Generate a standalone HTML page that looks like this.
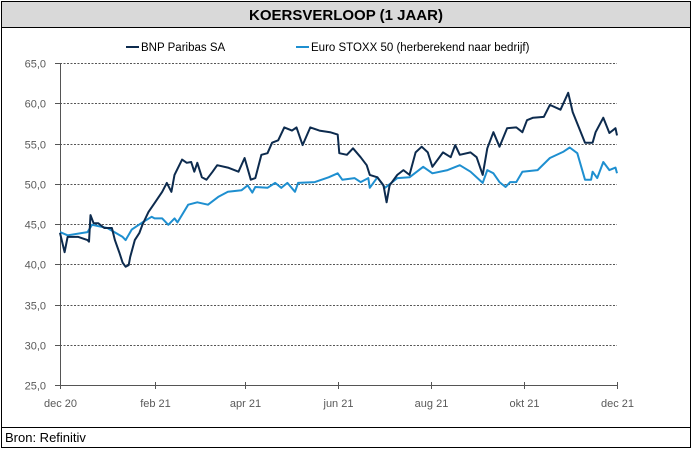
<!DOCTYPE html>
<html><head><meta charset="utf-8"><style>
body{margin:0;background:#fff;width:694px;height:449px;overflow:hidden;font-family:"Liberation Sans",sans-serif}
</style></head><body>
<svg width="694" height="449" xmlns="http://www.w3.org/2000/svg">
<rect x="1.5" y="1.5" width="689" height="446" fill="#fff" stroke="#000"/>
<rect x="2" y="2" width="688" height="25" fill="#d9d9d9"/>
<line x1="1" y1="27.5" x2="691" y2="27.5" stroke="#000"/>
<text x="346" y="20" text-anchor="middle" font-size="15" font-weight="bold">KOERSVERLOOP (1 JAAR)</text>
<line x1="1" y1="427.5" x2="691" y2="427.5" stroke="#000"/>
<text x="5" y="442" font-size="13">Bron: Refinitiv</text>
<g>
<line x1="126" y1="47" x2="139" y2="47" stroke="#0d2b4e" stroke-width="2"/>
<text x="141" y="51" font-size="11.5">BNP Paribas SA</text>
<line x1="296" y1="47" x2="309" y2="47" stroke="#1e8fd0" stroke-width="2"/>
<text x="311" y="51" font-size="11.5">Euro STOXX 50 (herberekend naar bedrijf)</text>
</g>
<g id="grid"></g><g id="axes"></g><g id="series"></g>
</svg>
<script>
const yTicks=[25,30,35,40,45,50,55,60,65];
const xTickDays=[0,62,121,182,243,304,365];
const xTickLabels=["dec 20","feb 21","apr 21","jun 21","aug 21","okt 21","dec 21"];
const bnpDays=[0,3,5,12,18,19,20,22,25,29,34,36,39,41,43,45,46,49,52,54,58,62,67,70,73,75,80,83,86,88,90,93,96,100,103,110,117,121,125,128,132,136,139,143,147,152,155,159,164,170,177,182,183,188,192,197,201,203,208,212,214,216,221,225,229,233,237,241,244,251,256,259,262,269,273,277,280,284,288,293,299,303,306,310,317,321,328,333,336,344,349,351,356,360,364,365];
const bnpValues=[43.9,41.5,43.4,43.4,43.0,42.8,46.1,45.1,45.1,44.5,44.5,43.0,41.4,40.2,39.7,39.9,40.9,43.0,43.9,44.9,46.5,47.6,49.0,50.1,49.0,51.1,53.0,52.6,52.7,51.5,52.6,50.8,50.5,51.5,52.3,52.0,51.5,53.2,50.5,50.7,53.6,53.8,55.1,55.4,57.0,56.6,57.0,54.8,57.0,56.6,56.4,56.1,53.8,53.6,54.4,53.3,52.3,51.1,50.8,49.8,47.7,49.8,51.1,51.7,51.1,53.9,54.6,53.9,52.1,53.9,53.3,54.8,53.6,53.9,53.3,51.1,54.4,56.4,54.6,56.9,57.0,56.4,57.9,58.2,58.3,59.8,59.2,61.3,58.9,55.1,55.1,56.4,58.2,56.3,56.9,56.0];
const stoxxDays=[0,5,18,21,31,41,43,47,54,60,62,67,71,75,77,84,90,97,104,110,119,123,126,128,136,141,145,149,154,156,167,176,182,185,193,197,202,203,208,213,215,221,229,238,244,254,262,269,277,280,284,288,292,295,299,303,313,321,330,334,339,344,348,349,352,356,360,364,365];
const stoxxValues=[44.0,43.6,44.0,44.9,44.5,43.4,43.0,44.3,45.2,45.9,45.7,45.7,44.9,45.7,45.2,47.4,47.7,47.4,48.4,49.0,49.2,49.8,48.9,49.6,49.5,50.1,49.5,50.1,49.0,50.1,50.2,50.8,51.3,50.5,50.7,50.2,50.7,49.5,50.8,49.5,49.8,50.7,50.8,52.1,51.3,51.7,52.3,51.5,50.1,51.7,51.3,50.2,49.6,50.2,50.2,51.5,51.7,53.2,54.0,54.5,53.8,50.5,50.5,51.5,50.7,52.7,51.7,52.0,51.3];
const X0=60,X1=617,Y0=385,Y1=63;
const xs=d=>X0+d/365*(X1-X0);
const ys=v=>Y0-(v-25)/40*(Y0-Y1);
const NS="http://www.w3.org/2000/svg";
function mk(t,a,p){const e=document.createElementNS(NS,t);for(const k in a)e.setAttribute(k,a[k]);p.appendChild(e);return e;}
const grid=document.getElementById('grid'),axes=document.getElementById('axes'),ser=document.getElementById('series');
yTicks.forEach(v=>{
 const y=Math.round(ys(v))+0.5;
 if(v>25){const g=mk('line',{x1:X0,x2:X1,y1:y,y2:y,stroke:'#555','stroke-dasharray':'2,1.5','stroke-width':1},grid);
 
 }
 mk('line',{x1:X0-5,x2:X0,y1:y,y2:y,stroke:'#555'},axes);
 const t=mk('text',{x:X0-14,y:y+4,'text-anchor':'end','font-size':11,fill:'#595959'},axes);
 t.textContent=v.toFixed(1).replace('.',',');
 
 
});
mk('line',{x1:X0+0.5,x2:X0+0.5,y1:Y1,y2:Y0,stroke:'#555'},axes);
mk('line',{x1:X0,x2:X1,y1:Y0+0.5,y2:Y0+0.5,stroke:'#555'},axes);
xTickDays.forEach((d,i)=>{
 const x=Math.round(xs(d))+0.5;
 mk('line',{x1:x,x2:x,y1:Y0-3,y2:Y0+4,stroke:'#555'},axes);
 const t=mk('text',{x:x,y:Y0+22,'text-anchor':'middle','font-size':11,fill:'#595959'},axes);
 t.textContent=xTickLabels[i];
 
 
});
function line(days,vals,col,name){
 const p=mk('polyline',{points:days.map((d,i)=>xs(d).toFixed(1)+','+ys(vals[i]).toFixed(1)).join(' '),fill:'none',stroke:col,'stroke-width':2,'stroke-linejoin':'round'},ser);
 
 
}
line(stoxxDays,stoxxValues,'#1e8fd0','series-euro-stoxx');
line(bnpDays,bnpValues,'#0d2b4e','series-bnp-paribas');
</script>
</body></html>
